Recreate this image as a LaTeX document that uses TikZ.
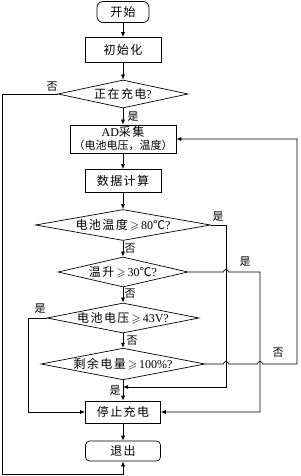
\documentclass[tikz,border=0pt]{standalone}
\usepackage{fontspec}
\usepackage{amssymb}
\setmainfont{Liberation Serif}
\newfontfamily\cjk[LetterSpace=12]{Noto Sans CJK SC}
\newfontfamily\cjktight{Noto Sans CJK SC}
\newcommand{\en}[1]{{\rmfamily #1}}
\usetikzlibrary{shapes.geometric,arrows.meta,calc}
\tikzset{
  terminal/.style={rectangle, rounded corners=6pt, draw, line width=0.7pt, minimum width=52pt, minimum height=21pt, inner sep=0pt, font=\cjk\fontsize{12}{13}\selectfont},
  process/.style={rectangle, draw, line width=0.7pt, minimum width=76pt, minimum height=25pt, inner sep=0pt, align=center, font=\cjk\fontsize{12}{13}\selectfont},
  decision/.style={diamond, draw, aspect=5, line width=0.7pt, inner sep=0pt, font=\cjk\fontsize{12}{13}\selectfont},
  tag/.style={inner sep=0pt, font=\cjktight\fontsize{11}{12}\selectfont},
  flow/.style={line width=0.7pt, -{Latex[length=5pt,width=4pt]}},
}

\begin{document}
\begin{tikzpicture}[x=1pt,y=1pt]
  \useasboundingbox (0,0) rectangle (300,-476);

  % main column
  \node[terminal] (start) at (123,-12) {开始};
  \node[process] (init) at (123,-50) {初始化};
  \node[decision, minimum width=130pt, minimum height=28pt] (chg) at (123,-94) {正在充电\en{?}};
  \node[process, minimum width=106pt, minimum height=28pt] (ad) at (123,-139) {\en{AD}采集\\{\cjktight\fontsize{11}{13}\selectfont（电池电压，温度）}};
  \node[process, minimum height=23pt] (calc) at (123,-181) {数据计算};
  \node[decision, minimum width=175pt, minimum height=31pt] (d1) at (123,-225) {电池温度\,$\geqslant$\,\en{80}℃\en{?}};
  \node[decision, minimum width=130pt, minimum height=30pt] (d2) at (123,-272) {温升\,$\geqslant$\,\en{30}℃\en{?}};
  \node[decision, minimum width=152pt, minimum height=30pt] (d3) at (123,-318) {电池电压\,$\geqslant$\,\en{43V?}};
  \node[decision, minimum width=164pt, minimum height=30pt] (d4) at (123,-364) {剩余电量\,$\geqslant$\,\en{100\%?}};
  \node[process, minimum width=75pt, minimum height=22pt] (stop) at (123,-412) {停止充电};
  \node[terminal, rounded corners=4pt, minimum width=75pt, minimum height=20pt] (exit) at (123,-451) {退出};

  % turning points
  \coordinate (jx0) at (2,-474);
  \coordinate (jx1) at (226,-387);
  \coordinate (jx2) at (260,-412);
  \coordinate (jx3) at (28,-412);
  \coordinate (jx4) at (297,-139);

  \draw[flow] (start) -- (init);
  \draw[flow] (init) -- (chg);
  \draw[flow] (chg) -- (ad);
  \draw[flow] (ad) -- (calc);
  \draw[flow] (calc) -- (d1);
  \draw[flow] (d1) -- (d2);
  \draw[flow] (d2) -- (d3);
  \draw[flow] (d3) -- (d4);
  \draw[flow] (d4) -- (stop);
  \draw[flow] (stop) -- (exit);

  \draw[flow] (chg.west) -| (jx0) -| (exit.south);
  \draw[flow] (d1.east) -| (jx1) -- (jx1 -| stop);
  \draw[flow] (d2.east) -- ($(d2.east -| jx1)+(-2.5,0)$) arc[start angle=180, end angle=0, radius=2.5] -| (jx2) -- (stop.east);
  \draw[flow] (d3.west) -| (jx3) -- (stop.west);
  \draw[flow] (d4.east) -- ($(d4.east -| jx1)+(-2.5,0)$) arc[start angle=180, end angle=0, radius=2.5]
    -- ($(d4.east -| jx2)+(-2.5,0)$) arc[start angle=180, end angle=0, radius=2.5] -| (jx4) -- (ad.east);

  % yes / no marks
  \node[tag] (n0) at (52,-87) {否};
  \node[tag] (y0) at (133,-117) {是};
  \node[tag] (y1) at (218,-217) {是};
  \node[tag] (n1) at (130,-249) {否};
  \node[tag] (y2) at (245,-262) {是};
  \node[tag] (n2) at (130,-294) {否};
  \node[tag] (y3) at (40,-309) {是};
  \node[tag] (n3) at (132,-341) {否};
  \node[tag] (n4) at (278,-353) {否};
  \node[tag] (y4) at (115,-391) {是};
\end{tikzpicture}
\end{document}
